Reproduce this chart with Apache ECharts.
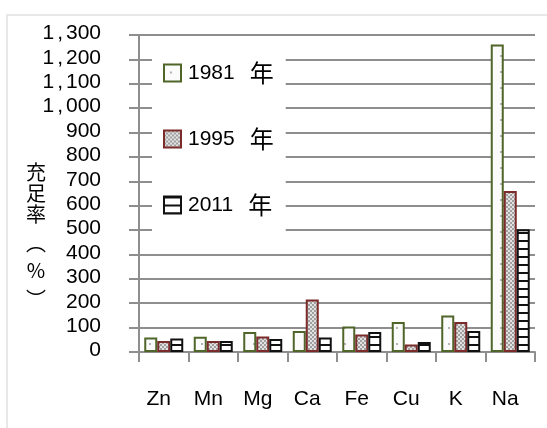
<!DOCTYPE html>
<html>
<head>
<meta charset="utf-8">
<title>充足率</title>
<script src="https://cdn.jsdelivr.net/npm/echarts@6/dist/echarts.min.js"></script>
<style>
  html, body { margin: 0; padding: 0; background: #ffffff; }
  #chart { width: 547px; height: 428px; }
</style>
</head>
<body>
<div id="chart"></div>
<script>
// Nutrients on the category axis
const categories = ['Zn', 'Mn', 'Mg', 'Ca', 'Fe', 'Cu', 'K', 'Na'];
// Survey years (one bar series each)
const years = ['1981', '1995', '2011'];
// Sufficiency rate (%) per nutrient and year
const rate1981 = [59, 63, 82, 86, 105, 123, 150, 1261];
const rate1995 = [45, 45, 64, 215, 72, 31, 123, 660];
const rate2011 = [55, 45, 53, 59, 82, 41, 86, 503];
// Value axis range and step
const yMin = 0;
const yMax = 1300;
const yStep = 100;
// Vertical axis title, one glyph per line (vertical bracket forms)
const yAxisTitleChars = ['充', '足', '率', '︵', '%', '︶'];
const yearSuffix = '年';

// Fill patterns for the three series
function makePattern(w, h, draw) {
  const c = document.createElement('canvas');
  c.width = w; c.height = h;
  const ctx = c.getContext('2d');
  draw(ctx, w, h);
  return { image: c, repeat: 'repeat' };
}
const sparseDots = makePattern(13, 16, (ctx, w, h) => {
  ctx.fillStyle = '#fbfbfb'; ctx.fillRect(0, 0, w, h);
  ctx.fillStyle = '#b4b4b4'; ctx.fillRect(6, 7, 2, 2);
});
const denseDots = makePattern(4, 4, (ctx, w, h) => {
  ctx.fillStyle = '#e2e2e2'; ctx.fillRect(0, 0, w, h);
  ctx.fillStyle = '#a0a0a0';
  ctx.fillRect(0, 0, 2, 2);
  ctx.fillRect(2, 2, 2, 2);
});
const hStripes = makePattern(8, 8, (ctx, w, h) => {
  ctx.fillStyle = '#ffffff'; ctx.fillRect(0, 0, w, h);
  ctx.fillStyle = '#111111'; ctx.fillRect(0, 0, w, 2);
});

const seriesStyles = [
  { color: sparseDots, borderColor: '#50652a', borderWidth: 2 },
  { color: denseDots, borderColor: '#7a2b2a', borderWidth: 2 },
  { color: hStripes, borderColor: '#111111', borderWidth: 2 }
];
const seriesData = [rate1981, rate1995, rate2011];

const font = "'Liberation Sans', Arial, sans-serif";
const cjkFont = "'Noto Sans CJK JP', sans-serif";
const gridGray = '#8e8e8e';

function fmtThousands(v) {
  if (v < 1000) return String(v);
  const head = Math.floor(v / 1000);
  const tail = String(v % 1000).padStart(3, '0');
  return head + '{c|,}' + tail;
}

// Line styles of the vertical title: plain glyphs, then the bracket lines
const titleLineStyle = ['g', 'g', 'g', 'open', 'pct', 'close'];
const titleText = yAxisTitleChars
  .map((ch, i) => '{' + titleLineStyle[i] + '|' + ch + '}')
  .join('\n');
const glyph = { fontFamily: cjkFont, fontSize: 20, color: '#000', align: 'center', width: 20 };

const chart = echarts.init(document.getElementById('chart'), null, { renderer: 'canvas' });

chart.setOption({
  backgroundColor: '#ffffff',
  animation: false,
  title: {
    text: titleText,
    left: 26,
    top: 162,
    padding: 0,
    textStyle: {
      fontFamily: cjkFont,
      fontSize: 20,
      fontWeight: 'normal',
      color: '#000',
      rich: {
        g: Object.assign({ lineHeight: 21 }, glyph),
        open: Object.assign({ lineHeight: 36 }, glyph),
        pct: Object.assign({ lineHeight: 19 }, glyph),
        close: Object.assign({ lineHeight: 38 }, glyph)
      }
    }
  },
  grid: { left: 139, right: 12, top: 35, bottom: 76, containLabel: false },
  legend: {
    orient: 'vertical',
    left: 152,
    top: 42,
    padding: [19, 12, 23, 11],
    backgroundColor: '#ffffff',
    itemWidth: 17,
    itemHeight: 17,
    itemGap: 42,
    icon: 'rect',
    data: years,
    formatter: name => '{n|' + name + '}{c|' + yearSuffix + '}',
    textStyle: {
      rich: {
        n: { fontFamily: font, fontSize: 21, color: '#000', lineHeight: 24, padding: [0, 0, 0, 2] },
        c: { fontFamily: cjkFont, fontSize: 24, color: '#000', lineHeight: 24, padding: [0, 0, 0, 15] }
      }
    }
  },
  xAxis: {
    type: 'category',
    data: categories,
    boundaryGap: true,
    axisLine: { show: true, lineStyle: { color: gridGray, width: 2 } },
    axisTick: { show: true, length: 10, alignWithLabel: false, lineStyle: { color: gridGray, width: 2 } },
    axisLabel: {
      margin: 37,
      fontFamily: font,
      fontSize: 21,
      color: '#000',
      padding: [0, 10, 0, 0]
    }
  },
  yAxis: {
    type: 'value',
    min: yMin,
    max: yMax,
    interval: yStep,
    axisLine: { show: true, lineStyle: { color: gridGray, width: 2 } },
    axisTick: { show: true, length: 10, lineStyle: { color: gridGray, width: 2 } },
    splitLine: { show: true, lineStyle: { color: gridGray, width: 2 } },
    axisLabel: {
      margin: 38,
      fontFamily: font,
      fontSize: 21,
      color: '#000',
      padding: [0, 0, 3, 0],
      formatter: fmtThousands,
      rich: { c: { fontFamily: font, fontSize: 21, color: '#000', padding: [0, 3, 0, 3] } }
    }
  },
  series: years.map((y, i) => ({
    name: y,
    type: 'bar',
    data: seriesData[i],
    barWidth: 13,
    barGap: '0%',
    itemStyle: seriesStyles[i]
  })),
  graphic: [
    {
      type: 'rect',
      silent: true,
      z: -10,
      shape: { x: 7, y: 15, width: 600, height: 500 },
      style: { fill: 'none', stroke: '#e8e8e8', lineWidth: 2 }
    }
  ]
});
</script>
</body>
</html>
